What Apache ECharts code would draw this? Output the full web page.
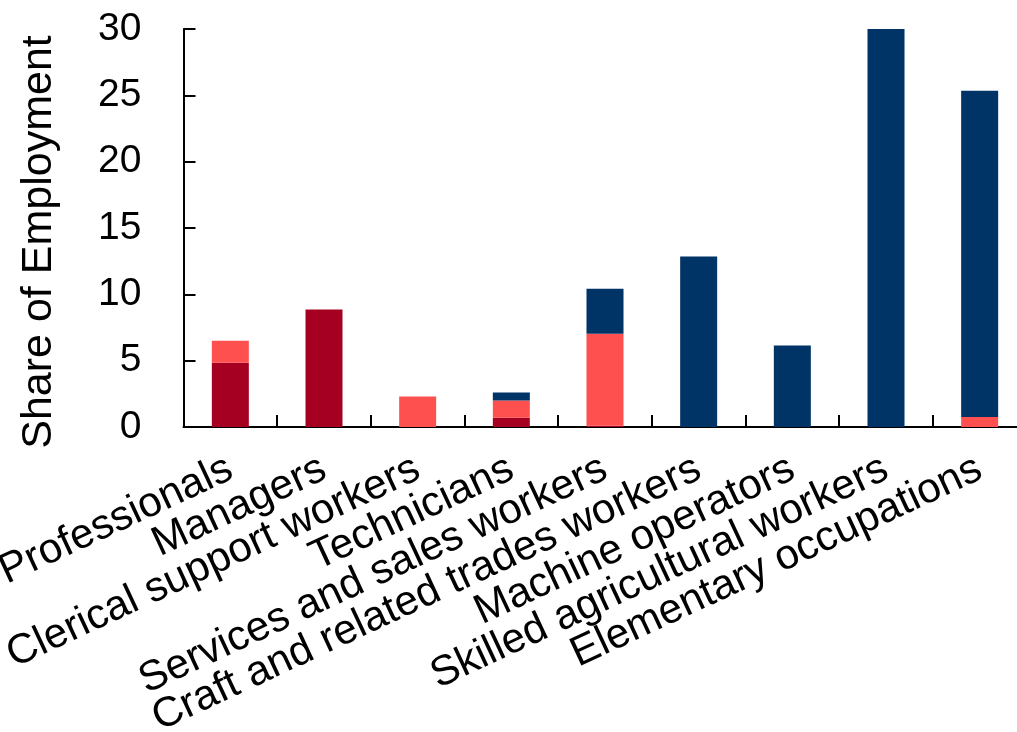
<!DOCTYPE html>
<html>
<head>
<meta charset="utf-8">
<script src="https://cdn.jsdelivr.net/npm/echarts@6/dist/echarts.min.js"></script>
<style>
html,body{margin:0;padding:0;background:#fff;}
#chart{width:1017px;height:732px;}
</style>
</head>
<body>
<div id="chart"></div>
<script>
const categories = ["Professionals","Managers","Clerical support workers","Technicians","Services and sales workers","Craft and related trades workers","Machine operators","Skilled agricultural workers","Elementary occupations"];
const darkRedValues = [4.85, 8.85, 0, 0.7, 0.1, 0, 0, 0, 0];
const lightRedValues = [1.65, 0, 2.3, 1.3, 6.92, 0, 0, 0, 0.75];
const navyValues = [0, 0, 0, 0.6, 3.4, 12.85, 6.15, 30.0, 24.6];
const yTicks = [0, 5, 10, 15, 20, 25, 30];

const font = "'Liberation Sans', Arial, sans-serif";
const chart = echarts.init(document.getElementById('chart'), null, {renderer: 'canvas'});
const barW = 37;
chart.setOption({
  backgroundColor: '#ffffff',
  animation: false,
  grid: {left: 183.5, top: 29, bottom: 305, right: -9.5, containLabel: false, outerBoundsMode: 'none'},
  xAxis: {
    type: 'category',
    data: categories,
    axisLine: {show: true, lineStyle: {color: '#000', width: 2}},
    axisTick: {show: true, inside: true, length: 12, alignWithLabel: false, lineStyle: {color: '#000', width: 2}},
    axisLabel: {interval: 0, rotate: 25, fontSize: 42, color: '#000', fontFamily: font, margin: 40},
    splitLine: {show: false}
  },
  yAxis: {
    type: 'value',
    min: yTicks[0],
    max: yTicks[yTicks.length - 1],
    interval: 5,
    name: 'Share of Employment',
    nameLocation: 'middle',
    nameGap: 123,
    nameRotate: 90,
    nameTextStyle: {fontSize: 43, color: '#000', fontFamily: font, padding: [0, 28, 0, 0]},
    axisLine: {show: true, lineStyle: {color: '#000', width: 2}},
    axisTick: {show: true, inside: true, length: 12, lineStyle: {color: '#000', width: 2}},
    axisLabel: {fontSize: 39, color: '#000', fontFamily: font, margin: 42},
    splitLine: {show: false}
  },
  series: [
    {type: 'bar', stack: 'total', data: darkRedValues, barWidth: barW, itemStyle: {color: '#A50021'}},
    {type: 'bar', stack: 'total', data: lightRedValues, barWidth: barW, itemStyle: {color: '#FF5050'}},
    {type: 'bar', stack: 'total', data: navyValues, barWidth: barW, itemStyle: {color: '#003366'}}
  ]
});
</script>
</body>
</html>
